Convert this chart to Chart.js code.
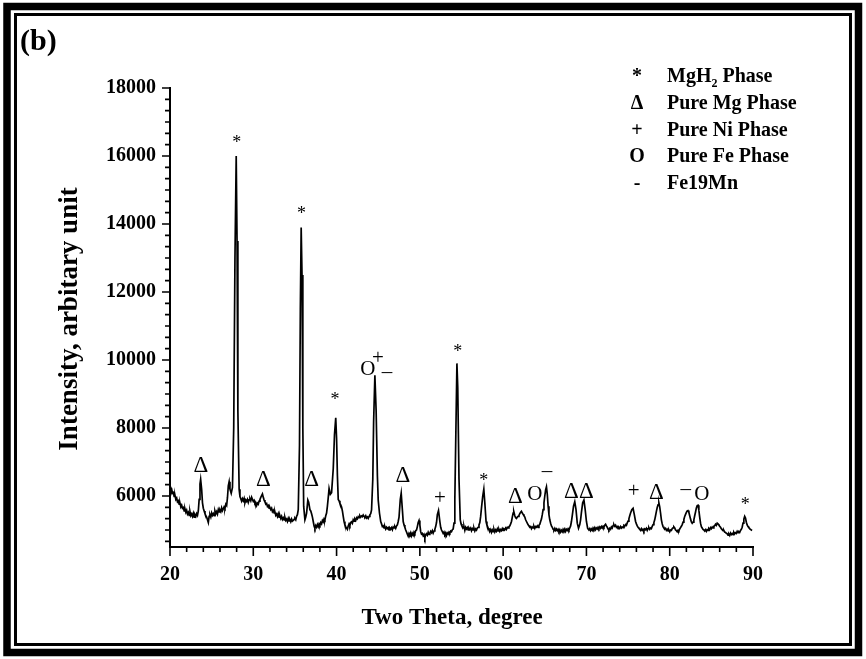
<!DOCTYPE html>
<html>
<head>
<meta charset="utf-8">
<script src="https://cdn.jsdelivr.net/npm/chart.js"></script>
<style>
  html, body { margin: 0; padding: 0; background: #fff; }
  canvas { display: block; }
</style>
</head>
<body>
<canvas id="xrd" width="866" height="659"></canvas>
<script>
// XRD pattern: 2-theta (degree) vs intensity (arbitrary unit)
const twoTheta = [
  20.0, 20.1, 20.2, 20.3, 20.4, 20.5, 20.6, 20.7, 20.8, 20.9,
  21.0, 21.1, 21.2, 21.3, 21.4, 21.5, 21.6, 21.7, 21.8, 21.9,
  22.0, 22.1, 22.2, 22.3, 22.4, 22.5, 22.6, 22.7, 22.8, 22.9,
  23.0, 23.1, 23.2, 23.3, 23.4, 23.5, 23.6, 23.68, 23.8, 23.9,
  24.0, 24.1, 24.2, 24.3, 24.4, 24.5, 24.6, 24.7, 24.8, 24.9,
  25.0, 25.1, 25.2, 25.3, 25.4, 25.5, 25.6, 25.7, 25.8, 25.9,
  26.0, 26.1, 26.2, 26.3, 26.4, 26.5, 26.6, 26.7, 26.8, 26.9,
  27.0, 27.1, 27.2, 27.35, 27.5, 27.65, 27.8, 27.95, 28.05, 28.15,
  28.3, 28.4, 28.5, 28.6, 28.7, 28.8, 28.9, 29.0, 29.1, 29.2,
  29.3, 29.4, 29.5, 29.6, 29.7, 29.8, 29.9, 30.0, 30.1, 30.2,
  30.3, 30.4, 30.5, 30.6, 30.7, 30.8, 30.9, 31.0, 31.1, 31.2,
  31.3, 31.4, 31.5, 31.6, 31.7, 31.8, 31.9, 32.0, 32.1, 32.2,
  32.3, 32.4, 32.5, 32.6, 32.7, 32.8, 32.9, 33.0, 33.1, 33.2,
  33.3, 33.4, 33.5, 33.6, 33.7, 33.8, 33.9, 34.0, 34.1, 34.2,
  34.3, 34.4, 34.5, 34.6, 34.7, 34.8, 34.9, 35.0, 35.1, 35.2,
  35.3, 35.4, 35.55, 35.65, 35.75, 35.85, 35.95, 36.05, 36.2, 36.3,
  36.4, 36.55, 36.65, 36.8, 36.9, 37.0, 37.1, 37.2, 37.3, 37.4,
  37.5, 37.6, 37.7, 37.8, 37.9, 38.0, 38.1, 38.2, 38.3, 38.4,
  38.5, 38.6, 38.7, 38.8, 38.9, 39.0, 39.1, 39.25, 39.4, 39.6,
  39.75, 39.9, 40.0, 40.1, 40.2, 40.3, 40.4, 40.5, 40.6, 40.7,
  40.8, 40.9, 41.0, 41.1, 41.2, 41.3, 41.4, 41.5, 41.6, 41.7,
  41.8, 41.9, 42.0, 42.1, 42.2, 42.3, 42.4, 42.5, 42.6, 42.7,
  42.8, 42.9, 43.0, 43.1, 43.2, 43.3, 43.4, 43.5, 43.6, 43.7,
  43.8, 43.9, 44.0, 44.1, 44.2, 44.35, 44.45, 44.6, 44.75, 44.9,
  45.0, 45.15, 45.3, 45.4, 45.5, 45.6, 45.7, 45.8, 45.9, 46.0,
  46.1, 46.2, 46.3, 46.4, 46.5, 46.6, 46.7, 46.8, 46.9, 47.0,
  47.1, 47.2, 47.3, 47.4, 47.5, 47.65, 47.76, 47.9, 48.0, 48.1,
  48.2, 48.3, 48.4, 48.5, 48.6, 48.7, 48.8, 48.9, 49.0, 49.1,
  49.2, 49.3, 49.4, 49.5, 49.6, 49.7, 49.8, 49.9, 50.0, 50.1,
  50.2, 50.3, 50.4, 50.5, 50.6, 50.7, 50.8, 50.9, 51.0, 51.1,
  51.2, 51.3, 51.4, 51.5, 51.6, 51.7, 51.8, 51.9, 52.0, 52.1,
  52.24, 52.4, 52.5, 52.6, 52.7, 52.8, 52.9, 53.0, 53.1, 53.2,
  53.3, 53.4, 53.5, 53.6, 53.7, 53.8, 53.9, 54.0, 54.1, 54.2,
  54.3, 54.45, 54.55, 54.7, 54.85, 54.95, 55.05, 55.2, 55.3, 55.4,
  55.5, 55.6, 55.7, 55.8, 55.9, 56.0, 56.1, 56.2, 56.3, 56.4,
  56.5, 56.6, 56.7, 56.8, 56.9, 57.0, 57.1, 57.2, 57.3, 57.4,
  57.55, 57.68, 57.8, 57.95, 58.05, 58.2, 58.3, 58.4, 58.5, 58.6,
  58.7, 58.8, 58.9, 59.0, 59.1, 59.2, 59.3, 59.4, 59.5, 59.6,
  59.7, 59.8, 59.9, 60.0, 60.1, 60.2, 60.3, 60.4, 60.5, 60.6,
  60.7, 60.8, 60.9, 61.0, 61.1, 61.2, 61.28, 61.4, 61.5, 61.6,
  61.7, 61.8, 61.9, 62.0, 62.1, 62.2, 62.3, 62.4, 62.5, 62.6,
  62.7, 62.8, 62.9, 63.0, 63.1, 63.2, 63.3, 63.4, 63.5, 63.6,
  63.7, 63.8, 63.9, 64.0, 64.1, 64.2, 64.3, 64.4, 64.5, 64.6,
  64.7, 64.8, 64.9, 65.0, 65.1, 65.2, 65.3, 65.4, 65.5, 65.6,
  65.7, 65.8, 65.9, 66.0, 66.1, 66.2, 66.3, 66.4, 66.5, 66.6,
  66.7, 66.8, 66.9, 67.0, 67.1, 67.2, 67.3, 67.4, 67.5, 67.6,
  67.7, 67.8, 67.9, 68.0, 68.1, 68.2, 68.3, 68.45, 68.6, 68.75,
  68.9, 69.05, 69.2, 69.3, 69.4, 69.55, 69.7, 69.85, 70.0, 70.15,
  70.3, 70.4, 70.5, 70.6, 70.7, 70.8, 70.9, 71.0, 71.1, 71.2,
  71.3, 71.4, 71.5, 71.6, 71.7, 71.8, 71.9, 72.0, 72.1, 72.2,
  72.3, 72.4, 72.5, 72.6, 72.7, 72.8, 72.9, 73.0, 73.1, 73.2,
  73.3, 73.4, 73.5, 73.6, 73.7, 73.8, 73.9, 74.0, 74.1, 74.2,
  74.3, 74.4, 74.5, 74.6, 74.7, 74.8, 74.9, 75.0, 75.1, 75.2,
  75.3, 75.45, 75.6, 75.75, 75.9, 76.0, 76.1, 76.2, 76.3, 76.4,
  76.5, 76.6, 76.7, 76.8, 76.9, 77.0, 77.1, 77.2, 77.3, 77.4,
  77.5, 77.6, 77.7, 77.8, 77.9, 78.0, 78.1, 78.2, 78.3, 78.4,
  78.5, 78.6, 78.7, 78.8, 78.9, 79.0, 79.1, 79.2, 79.3, 79.4,
  79.5, 79.6, 79.7, 79.8, 79.9, 80.0, 80.1, 80.2, 80.3, 80.4,
  80.5, 80.6, 80.7, 80.8, 80.9, 81.0, 81.1, 81.2, 81.3, 81.4,
  81.5, 81.6, 81.7, 81.8, 81.9, 82.0, 82.1, 82.2, 82.3, 82.4,
  82.5, 82.6, 82.7, 82.8, 82.9, 83.0, 83.1, 83.2, 83.3, 83.4,
  83.5, 83.6, 83.7, 83.8, 83.9, 84.0, 84.1, 84.2, 84.3, 84.4,
  84.5, 84.6, 84.7, 84.8, 84.9, 85.0, 85.1, 85.2, 85.3, 85.4,
  85.5, 85.6, 85.7, 85.8, 85.9, 86.0, 86.1, 86.2, 86.3, 86.4,
  86.5, 86.6, 86.7, 86.8, 86.9, 87.0, 87.1, 87.2, 87.3, 87.4,
  87.5, 87.6, 87.7, 87.8, 87.9, 88.0, 88.1, 88.2, 88.3, 88.4,
  88.5, 88.6, 88.7, 88.8, 88.9, 89.0, 89.1, 89.2, 89.3, 89.4,
  89.5, 89.6, 89.7, 89.8, 89.9
];
const intensity = [
  6270, 6180, 6200, 6080, 6100, 5990, 6020, 5900, 5940, 5830,
  5860, 5760, 5790, 5680, 5730, 5640, 5660, 5560, 5620, 5520,
  5580, 5470, 5520, 5430, 5540, 5420, 5470, 5400, 5490, 5380,
  5450, 5400, 5480, 5430, 5560, 5900, 6350, 6490, 6200, 5800,
  5640, 5560, 5480, 5420, 5380, 5300, 5220, 5400, 5450, 5380,
  5500, 5430, 5480, 5420, 5560, 5480, 5540, 5470, 5600, 5530,
  5590, 5540, 5650, 5570, 5620, 5680, 5640, 5760, 5720, 5950,
  6300, 6420, 6200, 6080, 6250, 8000, 13000, 16000, 13500, 8500,
  6200, 5980, 5920, 5850, 5920, 5860, 5930, 5800, 5880, 5840,
  5900, 5810, 5890, 5920, 5860, 5960, 5900, 5840, 5870, 5780,
  5800, 5720, 5790, 5760, 5850, 5900, 5960, 6010, 6060, 5960,
  5880, 5830, 5760, 5780, 5690, 5720, 5640, 5660, 5600, 5640,
  5540, 5580, 5500, 5530, 5430, 5470, 5400, 5480, 5380, 5420,
  5340, 5400, 5310, 5360, 5300, 5370, 5280, 5320, 5250, 5340,
  5270, 5300, 5240, 5320, 5260, 5280, 5310, 5340, 5300, 5400,
  5450, 5600, 7500, 11500, 13900, 12500, 8000, 5700, 5300, 5380,
  5500, 5880, 5820, 5600, 5560, 5480, 5380, 5250, 5120, 5050,
  5130, 5080, 5160, 5100, 5180, 5140, 5220, 5180, 5280, 5240,
  5330, 5300, 5420, 5500, 5700, 5950, 6220, 6050, 6100, 6800,
  7800, 8300, 7700, 6600, 5900, 5860, 5780, 5740, 5680, 5560,
  5400, 5250, 5150, 5100, 5060, 5020, 5120, 5180, 5130, 5220,
  5240, 5200, 5300, 5260, 5320, 5280, 5360, 5330, 5390, 5360,
  5420, 5380, 5410, 5390, 5440, 5400, 5380, 5420, 5350, 5380,
  5340, 5400, 5450, 5480, 5590, 6500, 8200, 9550, 8500, 6600,
  5880, 5500, 5250, 5180, 5100, 5120, 5060, 5100, 5030, 5080,
  5040, 5070, 5000, 5060, 5030, 5070, 5010, 5090, 5060, 5100,
  5050, 5120, 5150, 5250, 5380, 5900, 6080, 5600, 5250, 5150,
  5080, 5000, 4940, 4880, 4820, 4900, 4860, 4920, 4830, 4900,
  4850, 4940, 4900, 4980, 5000, 5100, 5220, 5280, 5150, 4950,
  4880, 4900, 4830, 4870, 4770, 4860, 4890, 4850, 4930, 4870,
  4900, 4960, 4920, 4980, 4910, 4970, 5020, 5100, 5220, 5450,
  5570, 5250, 5080, 5000, 4950, 4900, 4940, 4870, 4920, 4840,
  4910, 4880, 4940, 4910, 4970, 4950, 5010, 5030, 5200, 5900,
  7500, 9900, 9200, 6500, 5300, 5180, 5120, 5060, 5100, 4990,
  5080, 5030, 5070, 5000, 5060, 5020, 5060, 4980, 5040, 5000,
  5050, 4970, 5030, 5000, 5060, 5080, 5150, 5220, 5400, 5650,
  6000, 6200, 5800, 5250, 5150, 5060, 5000, 4960, 5010, 4930,
  5000, 4950, 5020, 4940, 5000, 4960, 5030, 4970, 5020, 4960,
  5010, 4980, 5040, 4990, 5030, 5010, 5060, 5020, 5080, 5060,
  5100, 5120, 5180, 5250, 5380, 5500, 5540, 5420, 5360, 5340,
  5380, 5400, 5430, 5480, 5520, 5550, 5500, 5460, 5420, 5380,
  5300, 5250, 5200, 5150, 5120, 5080, 5100, 5040, 5090, 5060,
  5110, 5050, 5100, 5080, 5120, 5080, 5140, 5170, 5250, 5320,
  5450, 5600, 5800, 6000, 6180, 6270, 6050, 5700, 5450, 5300,
  5200, 5120, 5080, 5020, 5000, 5050, 4990, 5030, 4980, 5020,
  4960, 5010, 4940, 4990, 4950, 5020, 4980, 5030, 4960, 5020,
  4990, 5040, 5000, 5060, 5120, 5250, 5420, 5700, 5830, 5600,
  5200, 5050, 5160, 5300, 5520, 5800, 5880, 5600, 5250, 5050,
  5000, 5040, 4980, 5030, 4990, 5060, 5020, 5070, 5010, 5060,
  5030, 5080, 5040, 5090, 5050, 5100, 5060, 5110, 5080, 5140,
  5170, 5120, 5080, 5030, 5000, 5050, 5020, 5090, 5060, 5130,
  5160, 5110, 5140, 5080, 5100, 5040, 5080, 5050, 5100, 5060,
  5090, 5070, 5130, 5110, 5160, 5140, 5210, 5260, 5330, 5420,
  5500, 5600, 5640, 5450, 5250, 5180, 5120, 5080, 5050, 5020,
  4990, 5040, 4990, 5020, 4970, 5030, 5010, 5050, 4990, 5040,
  5070, 5020, 5060, 5040, 5110, 5160, 5220, 5300, 5420, 5550,
  5660, 5740, 5800, 5680, 5500, 5300, 5180, 5100, 5060, 5030,
  5050, 4990, 5020, 4970, 5000, 4950, 5000, 4990, 5040, 5060,
  5090, 5060, 5000, 4980, 4950, 4990, 4970, 5030, 5070, 5110,
  5160, 5230, 5310, 5400, 5460, 5520, 5560, 5570, 5520, 5420,
  5320, 5240, 5200, 5230, 5300, 5420, 5530, 5650, 5720, 5730,
  5580, 5380, 5200, 5100, 5060, 5020, 5000, 4970, 5010, 4960,
  5010, 4990, 5040, 5010, 5070, 5040, 5090, 5060, 5110, 5130,
  5170, 5140, 5200, 5180, 5150, 5110, 5080, 5040, 5010, 4980,
  4990, 4940, 4930, 4900, 4890, 4850, 4880, 4840, 4910, 4870,
  4900, 4860, 4930, 4890, 4920, 4900, 4960, 4920, 4950, 4930,
  4990, 5020, 5080, 5200, 5320, 5400, 5350, 5230, 5150, 5100,
  5070, 5040, 5020, 5000, 4990
];

// axis tick labels
const xTickLabels = [20, 30, 40, 50, 60, 70, 80, 90];
const yTickLabels = [6000, 8000, 10000, 12000, 14000, 16000, 18000];

// phase markers written above the peaks
const peakSymbols = ['Δ', '*', 'Δ', '*', 'Δ', '*', 'O', '+', '–', 'Δ', '+', '*', '*', 'Δ', 'O', '–', 'Δ', 'Δ', '+', 'Δ', '–', 'O', '*'];
const peakAt = [23.7, 28.0, 31.2, 35.8, 37.0, 39.8, 43.76, 44.96, 46.04, 47.96, 52.4, 54.56, 57.68, 61.48, 63.8, 65.28, 68.2, 70.0, 75.68, 78.4, 81.92, 83.86, 89.08];
const peakLevel = [6880, 16380, 6470, 14290, 6470, 8820, 9735, 10030, 9620, 6590, 5930, 10235, 6420, 5980, 6050, 6710, 6130, 6130, 6130, 6100, 6206, 6050, 5735];

// legend
const legendSymbols = ['*', 'Δ', '+', 'O', '-'];
const legendLabels = ['MgH₂ Phase', 'Pure Mg Phase', 'Pure Ni Phase', 'Pure Fe Phase', 'Fe19Mn'];

const serif = "'Liberation Serif', 'Times New Roman', serif";

const points = twoTheta.map((t, i) => ({ x: t, y: intensity[i] }));

// frame, ticks, labels and markers
const decorations = {
  id: 'decorations',
  afterDraw(chart) {
    const ctx = chart.ctx;
    const xs = chart.scales.x, ys = chart.scales.y;
    ctx.save();
    ctx.strokeStyle = '#000';
    ctx.fillStyle = '#000';

    // double border
    ctx.lineWidth = 7.5;
    ctx.strokeRect(7, 6.5, 851.5, 646);
    ctx.lineWidth = 3;
    ctx.strokeRect(15.5, 14.5, 835, 630);

    // tick marks
    ctx.lineWidth = 1.6;
    ctx.beginPath();
    for (let v = 20; v <= 90.01; v += 2) {
      const px = xs.getPixelForValue(v);
      const len = Math.abs(v % 10) < 0.01 ? 9 : 5;
      ctx.moveTo(px, ys.bottom);
      ctx.lineTo(px, ys.bottom + len);
    }
    for (let k = 0; k <= 40; k++) {
      const v = 18000 - k * 2000 / 6;
      if (v < 4500) break;
      const py = ys.getPixelForValue(v);
      const len = k % 6 === 0 ? 8 : 5;
      ctx.moveTo(xs.left, py);
      ctx.lineTo(xs.left - len, py);
    }
    ctx.stroke();

    // panel tag
    ctx.font = 'bold 30px ' + serif;
    ctx.textAlign = 'left';
    ctx.textBaseline = 'middle';
    ctx.fillText('(b)', 20, 42);

    // axis titles
    ctx.font = 'bold 23px ' + serif;
    ctx.textAlign = 'center';
    ctx.fillText('Two Theta, degree', 452, 618);
    ctx.save();
    ctx.translate(70, 319);
    ctx.rotate(-Math.PI / 2);
    ctx.font = 'bold 27px ' + serif;
    ctx.fillText('Intensity, arbitary unit', 0, 0);
    ctx.restore();

    // peak markers
    ctx.textAlign = 'center';
    ctx.textBaseline = 'middle';
    peakSymbols.forEach((s, i) => {
      ctx.font = (s === '*' ? '18px ' : s === 'Δ' ? '23px ' : '21px ') + serif;
      ctx.fillText(s, xs.getPixelForValue(peakAt[i]), ys.getPixelForValue(peakLevel[i]));
    });

    // legend
    legendSymbols.forEach((s, i) => {
      const y = 77 + i * 26.7;
      ctx.font = 'bold 20px ' + serif;
      ctx.textAlign = 'center';
      ctx.fillText(s, 637, y);
      ctx.textAlign = 'left';
      const parts = legendLabels[i].split('₂');
      let x = 667;
      ctx.fillText(parts[0], x, y);
      if (parts.length > 1) {
        x += ctx.measureText(parts[0]).width;
        ctx.font = 'bold 12px ' + serif;
        ctx.fillText('2', x, y + 7);
        x += ctx.measureText('2').width;
        ctx.font = 'bold 20px ' + serif;
        ctx.fillText(parts[1], x, y);
      }
    });
    ctx.restore();
  }
};

new Chart(document.getElementById('xrd'), {
  type: 'line',
  data: {
    datasets: [{
      data: points,
      borderColor: '#000',
      borderWidth: 1.7,
      pointRadius: 0,
      tension: 0,
      fill: false
    }]
  },
  options: {
    responsive: false,
    animation: false,
    devicePixelRatio: 1,
    layout: { padding: { top: 88, right: 113, left: 0, bottom: 0 } },
    plugins: { legend: { display: false }, tooltip: { enabled: false } },
    scales: {
      x: {
        type: 'linear',
        min: 20,
        max: 90,
        afterFit: s => { s.height = 112; },
        afterBuildTicks: s => { s.ticks = xTickLabels.map(v => ({ value: v })); },
        grid: { display: false, drawTicks: false },
        border: { display: true, color: '#000', width: 2 },
        ticks: { padding: 16, color: '#000', font: { family: serif, size: 20, weight: 'bold' }, maxRotation: 0, callback: v => String(v) }
      },
      y: {
        min: 4500,
        max: 18000,
        afterFit: s => { s.width = 170; },
        afterBuildTicks: s => { s.ticks = yTickLabels.map(v => ({ value: v })); },
        grid: { display: false, drawTicks: false },
        border: { display: true, color: '#000', width: 2 },
        ticks: { padding: 14, color: '#000', font: { family: serif, size: 20, weight: 'bold' }, callback: v => String(v) }
      }
    }
  },
  plugins: [decorations]
});
</script>
</body>
</html>
